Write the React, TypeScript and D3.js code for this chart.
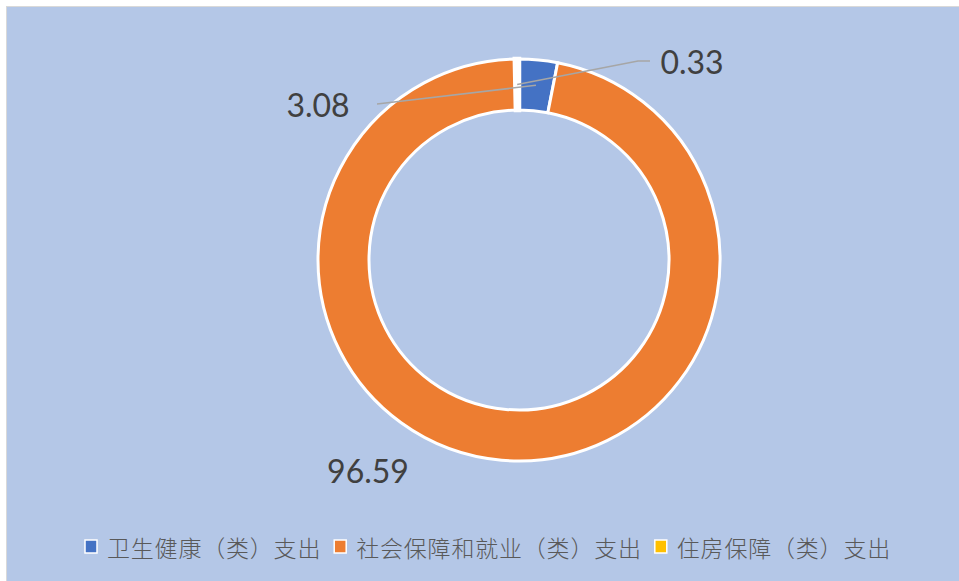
import { pie, arc, PieArcDatum } from "d3";

// data
const categories = ["卫生健康（类）支出", "社会保障和就业（类）支出", "住房保障（类）支出"];
const values = [3.08, 96.59, 0.33];
const colors = ["#4472C4", "#ED7D31", "#FFC000"];
const valueLabels = ["3.08", "96.59", "0.33"];

const W = 959;
const H = 581;
const cx = 519;
const cy = 260;
const outerR = 201;
const innerR = 150;

interface Slice {
  name: string;
  value: number;
  color: string;
  label: string;
}

const slices: Slice[] = categories.map((name, i) => ({
  name,
  value: values[i],
  color: colors[i],
  label: valueLabels[i],
}));

// where each data label sits (text anchor point) and whether it has a leader line
const labelPos = [
  { x: 318, y: 117, leader: [377, 104] as [number, number], bend: null as null | [number, number] },
  { x: 368, y: 483, leader: null as null | [number, number], bend: null as null | [number, number] },
  { x: 692, y: 74, leader: [650, 61] as [number, number], bend: [638, 61] as [number, number] },
];

export default function App() {
  const arcs = pie<Slice>()
    .sort(null)
    .value((d) => d.value)(slices);

  const arcGen = arc<PieArcDatum<Slice>>().innerRadius(innerR).outerRadius(outerR);
  const mid = (innerR + outerR) / 2;
  const centroidArc = arc<PieArcDatum<Slice>>().innerRadius(mid).outerRadius(mid);

  // legend layout
  const fs = 23;
  const ls = 0.8;
  const legendY = 547;
  let lx = 85;
  const legendItems = slices.map((s) => {
    const item = { x: lx, s };
    lx += 22 + s.name.length * (fs + ls) + 13;
    return item;
  });

  return (
    <svg
      width={W}
      height={H}
      style={{ position: "fixed", left: 0, top: 0, background: "#ffffff" }}
    >
      <rect x={6.5} y={6.5} width={W} height={H} fill="#B4C7E7" stroke="#D9D9D9" strokeWidth={1} />

      <g transform={`translate(${cx},${cy})`}>
        {arcs.map((a, i) => (
          <path
            key={i}
            d={arcGen(a) ?? ""}
            fill={a.data.color}
            stroke="#ffffff"
            strokeWidth={a.data.value < 1 ? 4.5 : 3}
          />
        ))}
      </g>

      {/* leader lines */}
      {arcs.map((a, i) => {
        const lp = labelPos[i];
        if (!lp.leader) return null;
        const [px, py] = centroidArc.centroid(a);
        const pts = [lp.leader, ...(lp.bend ? [lp.bend] : []), [cx + px, cy + py]];
        return (
          <polyline
            key={i}
            points={pts.map((p) => p.join(",")).join(" ")}
            fill="none"
            stroke="#A6A6A6"
            strokeWidth={1.5}
          />
        );
      })}

      {/* data labels */}
      {arcs.map((a, i) => (
        <text
          key={i}
          x={labelPos[i].x}
          y={labelPos[i].y}
          textAnchor="middle"
          fontFamily="Lato, 'Open Sans', sans-serif"
          fontSize={32}
          fill="#404040"
        >
          {a.data.label}
        </text>
      ))}

      {/* legend */}
      {legendItems.map((it, i) => (
        <g key={i}>
          <rect x={it.x} y={legendY - 7} width={12} height={13} fill={it.s.color} stroke="#ffffff" strokeWidth={1.5} />
          <text
            x={it.x + 22}
            y={legendY}
            dominantBaseline="central"
            fontFamily="'Noto Sans CJK SC', sans-serif"
            fontSize={fs}
            letterSpacing={ls}
            fontWeight={300}
            fill="#595959"
          >
            {it.s.name}
          </text>
        </g>
      ))}
    </svg>
  );
}
